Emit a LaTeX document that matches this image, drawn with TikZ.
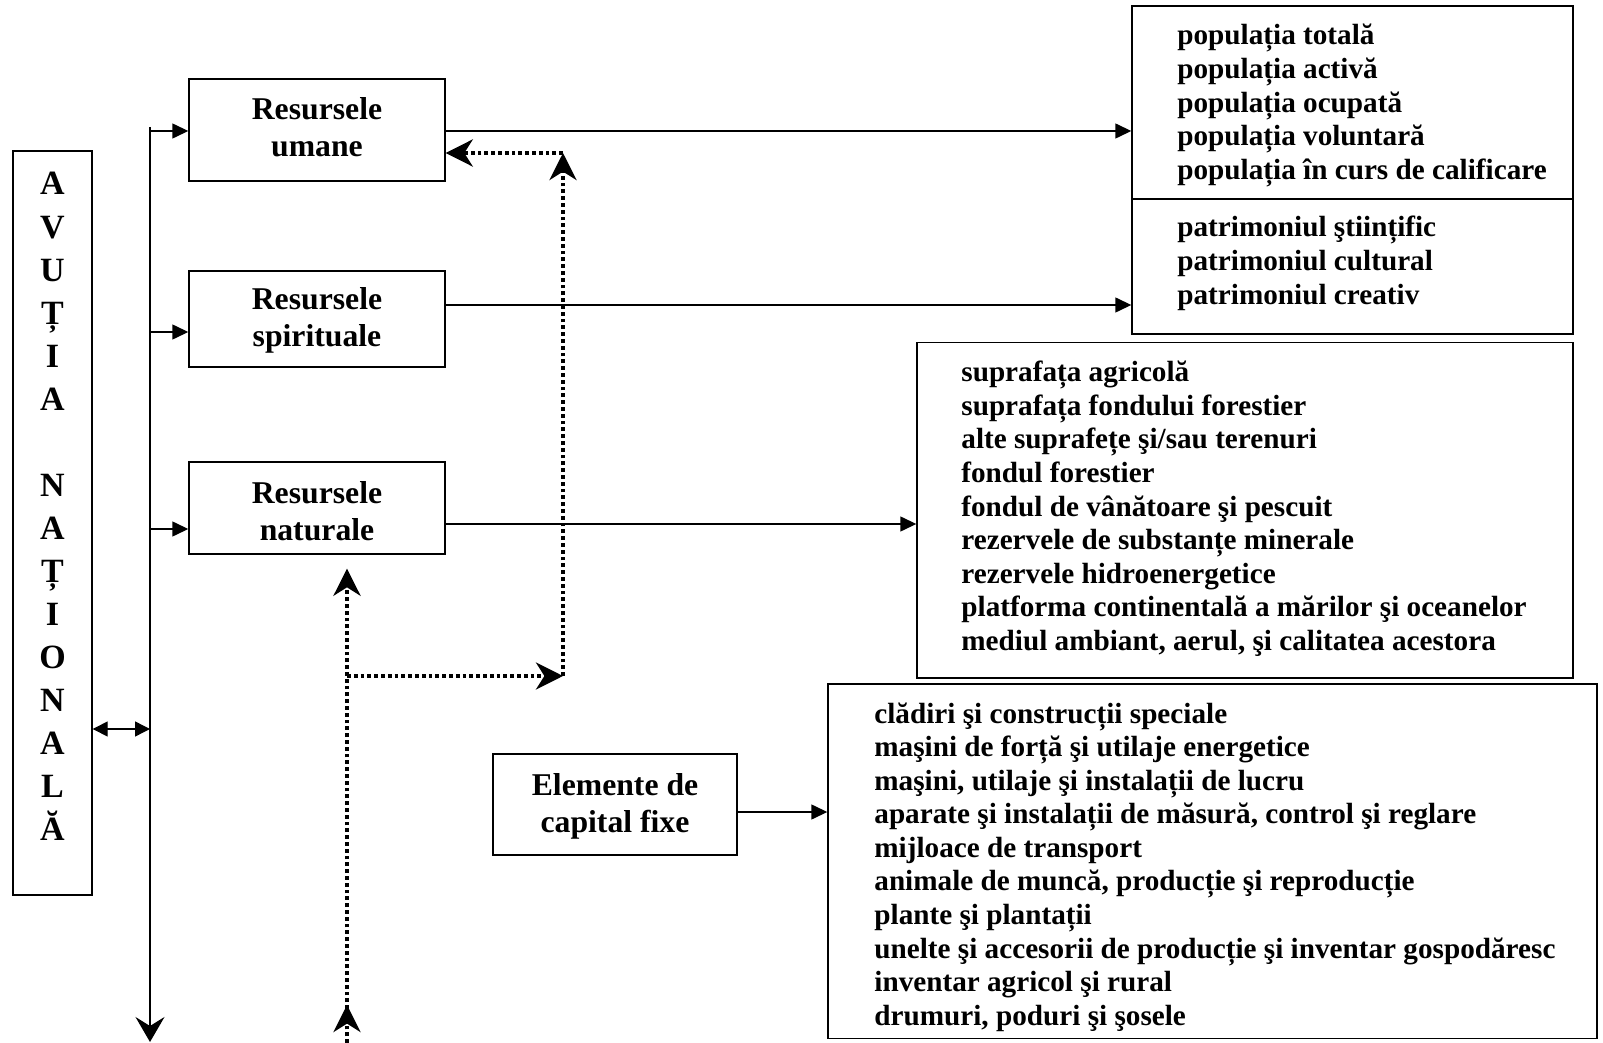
\documentclass[tikz,border=0pt]{standalone}
\usepackage{fontspec}
\setmainfont{Liberation Serif}
\usetikzlibrary{arrows.meta}
\begin{document}
\begin{tikzpicture}[x=0.5pt,y=-0.5pt,
  box/.style={draw,line width=0.7pt,inner sep=0pt,rectangle},
  listtext/.style={anchor=base west,inner sep=0pt,font=\bfseries\fontsize{14.6}{16.8}\selectfont},
  headtext/.style={anchor=base,inner sep=0pt,font=\bfseries\fontsize{15.85}{18.5}\selectfont},
  solidline/.style={line width=0.7pt},
  tri/.style={-{Triangle[length=8pt,width=7.5pt]}},
  dots/.style={line width=2.1pt,dash pattern=on 1.9pt off 1.5pt},
  stl/.style={-{Stealth[length=13.5pt,width=13.5pt,inset=4.2pt]}},
]
\useasboundingbox (0,0) rectangle (1603,1043);

% boxes
\node[box,minimum width=39.5pt,minimum height=372pt] (avutia) at (52.5,523) {};
\node[box,minimum width=128pt,minimum height=51pt] (umane) at (317,130) {};
\node[box,minimum width=128pt,minimum height=48pt] (spirit) at (317,319) {};
\node[box,minimum width=128pt,minimum height=46pt] (natur) at (317,508) {};
\node[box,minimum width=122pt,minimum height=50.5pt] (elem) at (615,804.5) {};
\node[box,minimum width=220.5pt,minimum height=96.5pt] (poptop) at (1352.5,102.5) {};
\node[box,minimum width=220.5pt,minimum height=67.5pt] (popbot) at (1352.5,266.5) {};
\node[box,minimum width=328pt,minimum height=167.6pt] (natlist) at (1245,510.3) {};
\node[box,minimum width=384.5pt,minimum height=177.2pt] (caplist) at (1212.5,861.2) {};

% texts
\node[anchor=base,inner sep=0pt,font=\bfseries\fontsize{17}{21.53}\selectfont] (tAv) at (52.5,195)
  {\begin{tabular}[t]{@{}c@{}}A\\V\\U\\Ț\\I\\A\\ \\N\\A\\Ț\\I\\O\\N\\A\\L\\Ă\end{tabular}};
\node[headtext] (tUm) at (317,119.5) {\begin{tabular}[t]{@{}c@{}}Resursele\\umane\end{tabular}};
\node[headtext] (tSp) at (317,310) {\begin{tabular}[t]{@{}c@{}}Resursele\\spirituale\end{tabular}};
\node[headtext] (tNa) at (317,503) {\begin{tabular}[t]{@{}c@{}}Resursele\\naturale\end{tabular}};
\node[headtext] (tEl) at (615,795) {\begin{tabular}[t]{@{}c@{}}Elemente de\\capital fixe\end{tabular}};

\node[listtext] (tPop) at (1177,45) {\begin{tabular}[t]{@{}l@{}}
populația totală\\
populația activă\\
populația ocupată\\
populația voluntară\\
populația în curs de calificare\end{tabular}};
\node[listtext] (tPat) at (1177,237) {\begin{tabular}[t]{@{}l@{}}
patrimoniul ştiințific\\
patrimoniul cultural\\
patrimoniul creativ\end{tabular}};
\node[listtext] (tNat) at (961,381.7) {\begin{tabular}[t]{@{}l@{}}
suprafața agricolă\\
suprafața fondului forestier\\
alte suprafețe şi/sau terenuri\\
fondul forestier\\
fondul de vânătoare şi pescuit\\
rezervele de substanțe minerale\\
rezervele hidroenergetice\\
platforma continentală a mărilor şi oceanelor\\
mediul ambiant, aerul, şi calitatea acestora\end{tabular}};
\node[listtext] (tCap) at (874,723) {\begin{tabular}[t]{@{}l@{}}
clădiri şi construcții speciale\\
maşini de forță şi utilaje energetice\\
maşini, utilaje şi instalații de lucru\\
aparate şi instalații de măsură, control şi reglare\\
mijloace de transport\\
animale de muncă, producție şi reproducție\\
plante şi plantații\\
unelte şi accesorii de producție şi inventar gospodăresc\\
inventar agricol şi rural\\
drumuri, poduri şi şosele\end{tabular}};

% spine
\coordinate (sTop) at (150,127);
\coordinate (sBot) at (150,1042);
\draw[solidline,-{Stealth[length=12.5pt,width=14.5pt,inset=4.5pt]}] (sTop) -- (sBot);
\coordinate (b1) at (150,131);
\coordinate (b2) at (150,332);
\coordinate (b3) at (150,529);
\coordinate (dA) at (150,729);
\draw[solidline,tri] (b1) -- (b1 -| umane.west);
\draw[solidline,tri] (b2) -- (b2 -| spirit.west);
\draw[solidline,tri] (b3) -- (b3 -| natur.west);
\draw[solidline,{Triangle[length=7.5pt,width=7.5pt]}-{Triangle[length=7.5pt,width=7.5pt]}] (avutia.east |- dA) -- (dA);

% right arrows
\coordinate (h2) at (0,305);
\coordinate (h3) at (0,524);
\coordinate (h4) at (0,812);
\draw[solidline,tri] (umane.east |- b1) -- (poptop.west |- b1);
\draw[solidline,tri] (spirit.east |- h2) -- (popbot.west |- h2);
\draw[solidline,tri] (natur.east |- h3) -- (natlist.west |- h3);
\draw[solidline,tri] (elem.east |- h4) -- (caplist.west |- h4);

% dotted feedback
\coordinate (p1) at (347,1043);
\coordinate (p0) at (347,1005);
\coordinate (p2) at (347,676);
\coordinate (p3) at (563,676);
\coordinate (p4) at (563,153);
\draw[dots,stl,shorten >=7pt] (p1) -- (p1 |- natur.south);
\draw[dots,stl] (p1) -- (p0);
\draw[dots,stl] (p2) -- (p3);
\draw[dots,stl] (p3) -- (p4);
\draw[dots,stl] (p4) -- (p4 -| umane.east);
\end{tikzpicture}
\end{document}
